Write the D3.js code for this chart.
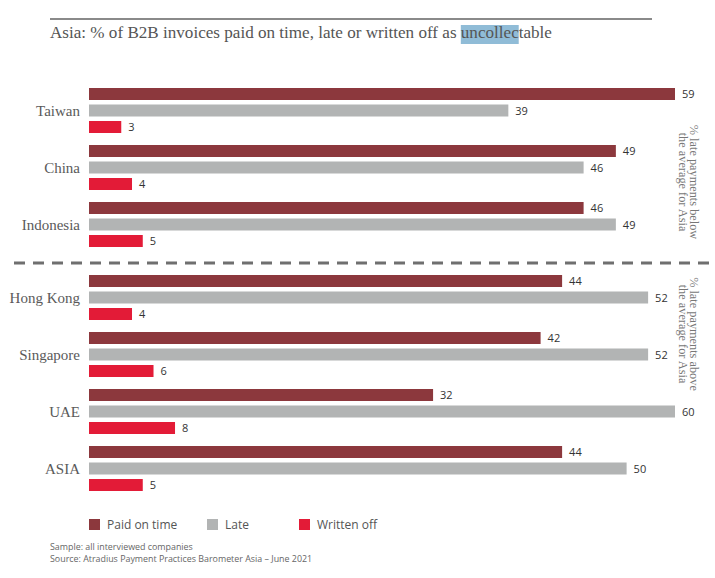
<!DOCTYPE html>
<html>
<head>
<meta charset="utf-8">
<script src="https://cdn.jsdelivr.net/npm/d3@7"></script>
<style>
  html, body { margin: 0; padding: 0; background: #fff; }
  svg { display: block; }
</style>
</head>
<body>
<svg id="chart" width="715" height="578"></svg>
<script>
// ---- data ----
const categories = ["Taiwan", "China", "Indonesia", "Hong Kong", "Singapore", "UAE", "ASIA"];
const paidOnTime = [59, 49, 46, 44, 42, 32, 44];
const late       = [39, 46, 49, 52, 52, 60, 50];
const writtenOff = [3, 4, 5, 4, 6, 8, 5];
const seriesNames = ["Paid on time", "Late", "Written off"];
const seriesColors = ["#8c383d", "#b2b4b4", "#e31b37"];
const titleParts = ["Asia: % of B2B invoices paid on time, late or written off as ", "uncollec", "table"];
const sideNotes = [["% late payments below", "the average for Asia"], ["% late payments above", "the average for Asia"]];
const footnotes = ["Sample: all interviewed companies", "Source: Atradius Payment Practices Barometer Asia \u2013 June 2021"];

const svg = d3.select("#chart");
const serif = "'Liberation Serif', 'DejaVu Serif', serif";
const sans = "'Open Sans', 'DejaVu Sans', sans-serif";

// ---- title ----
svg.append("line").attr("x1", 50).attr("x2", 652).attr("y1", 19).attr("y2", 19)
  .attr("stroke", "#8a8a8a").attr("stroke-width", 2);
const hl = svg.append("rect").attr("fill", "#90bcd7");
const title = svg.append("text").attr("x", 50).attr("y", 38)
  .attr("font-family", serif).attr("font-size", 17.1).attr("fill", "#555");
titleParts.forEach(p => title.append("tspan").text(p));
const start = title.node().getSubStringLength(0, titleParts[0].length);
const w = title.node().getSubStringLength(titleParts[0].length, titleParts[1].length);
hl.attr("x", 50 + start).attr("y", 25).attr("width", w).attr("height", 19);

// ---- scales ----
const x = d3.scaleLinear().domain([0, 54.5]).range([89, 675]).clamp(true);
const groupIndex = d3.scaleLinear().domain([0, 6]).range([88, 430]);
const groupTop = (i) => groupIndex(i) + (i >= 3 ? 16 : 0);
const barH = 12, barStep = 16.5;

const rows = categories.map((c, i) => ({
  cat: c, i, vals: [paidOnTime[i], late[i], writtenOff[i]]
}));

const g = svg.append("g");
rows.forEach(r => {
  const top = groupTop(r.i);
  g.append("text").attr("x", 80).attr("y", top + barStep + barH / 2 + 5)
    .attr("text-anchor", "end").attr("font-family", serif).attr("font-size", 15)
    .attr("fill", "#5a5a5a").text(r.cat);
  r.vals.forEach((v, s) => {
    const y = top + s * barStep;
    g.append("rect").attr("x", x(0)).attr("y", y).attr("width", x(v) - x(0)).attr("height", barH)
      .attr("fill", seriesColors[s]);
    g.append("text").attr("x", x(v) + 7).attr("y", y + barH / 2 + 4)
      .attr("font-family", sans).attr("font-size", 11).attr("fill", "#333").text(v);
  });
});

// ---- divider ----
svg.append("line").attr("x1", 14).attr("x2", 712).attr("y1", 263).attr("y2", 263)
  .attr("stroke", "#6f6f6f").attr("stroke-width", 3).attr("stroke-dasharray", "11,8");

// ---- side notes ----
const noteCenters = [182, 334];
sideNotes.forEach((lines, k) => {
  const t = svg.append("text").attr("transform", `translate(690,${noteCenters[k]}) rotate(90)`)
    .attr("text-anchor", "middle").attr("font-family", serif).attr("font-size", 12.3).attr("fill", "#777");
  lines.forEach((ln, j) => t.append("tspan").attr("x", 0).attr("dy", j === 0 ? 0 : 11.5).text(ln));
});

// ---- legend ----
const legX = [89, 207, 299];
seriesNames.forEach((n, s) => {
  svg.append("rect").attr("x", legX[s]).attr("y", 519).attr("width", 11).attr("height", 11).attr("fill", seriesColors[s]);
  svg.append("text").attr("x", legX[s] + 18).attr("y", 529).attr("font-family", sans).attr("font-size", 12)
    .attr("fill", "#555").text(n);
});

// ---- footnotes ----
footnotes.forEach((f, k) => {
  svg.append("text").attr("x", 50).attr("y", 550 + k * 12).attr("font-family", sans).attr("font-size", 8.9)
    .attr("fill", "#666").text(f);
});
</script>
</body>
</html>
